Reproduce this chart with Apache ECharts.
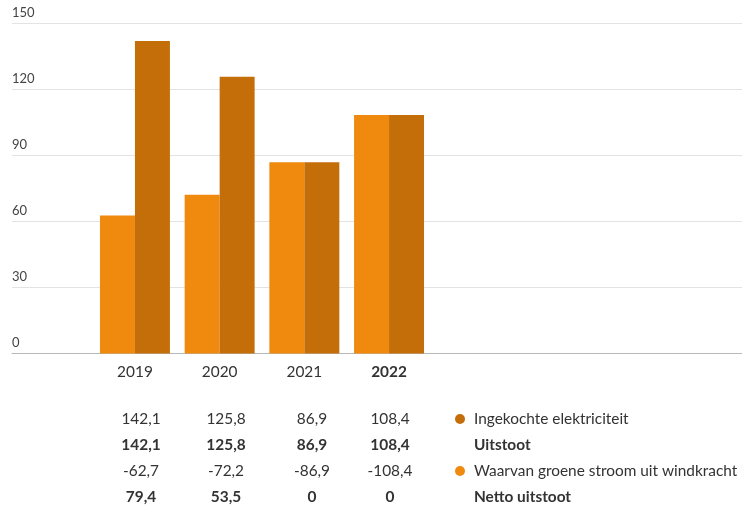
<!DOCTYPE html>
<html><head><meta charset="utf-8">
<script src="https://cdn.jsdelivr.net/npm/echarts@6/dist/echarts.min.js"></script>
<style>html,body{margin:0;padding:0;background:#fff}#c{width:742px;height:508px}</style>
</head><body><div id="c"></div>
<script>
const years = ['2019', '2020', '2021', '2022'];
const ingekocht = [142.1, 125.8, 86.9, 108.4];
const groene = [62.7, 72.2, 86.9, 108.4];
const netto = [79.4, 53.5, 0, 0];
const yTicks = [0, 30, 60, 90, 120, 150];
const rowLabels = ['Ingekochte elektriciteit', 'Uitstoot', 'Waarvan groene stroom uit windkracht', 'Netto uitstoot'];

const cLight = '#ef8a0f', cDark = '#c46e0a';
const FONT = 'Lato';
const FS = 15.4;
const fmt = v => String(v).replace('.', ',');

const chart = echarts.init(document.getElementById('c'), null, {renderer: 'canvas'});

const rows = [
  {vals: ingekocht.map(v => fmt(v)), bold: false, dot: cDark},
  {vals: ingekocht.map(v => fmt(v)), bold: true, dot: null},
  {vals: groene.map(v => fmt(-v)), bold: false, dot: cLight},
  {vals: netto.map(v => fmt(v)), bold: true, dot: null}
];
const colX = [141, 226, 312, 390];
const rowY = [419, 445, 471, 497];
const graphics = [];
rows.forEach((r, i) => {
  r.vals.forEach((t, j) => {
    graphics.push({type: 'text', x: colX[j], y: rowY[i], style: {text: t, align: 'center', verticalAlign: 'middle', fill: '#333', font: (r.bold ? 'bold ' : '') + FS + 'px ' + FONT}});
  });
  if (r.dot) graphics.push({type: 'circle', shape: {cx: 460, cy: rowY[i], r: 5}, style: {fill: r.dot}});
  graphics.push({type: 'text', x: 474, y: rowY[i], style: {text: rowLabels[i], align: 'left', verticalAlign: 'middle', fill: '#333', font: (r.bold ? 'bold ' : '') + FS + 'px ' + FONT}});
});

chart.setOption({
  animation: false,
  grid: [
    {left: 12, right: 0, top: 23.5, height: 330},
    {left: 92.6, width: 338.8, top: 23.5, height: 330}
  ],
  xAxis: [
    {gridIndex: 0, type: 'category', data: [''], axisLine: {lineStyle: {color: '#b8b8b8', width: 1}}, axisTick: {show: false}, axisLabel: {show: false}},
    {gridIndex: 1, type: 'category', data: years, axisLine: {show: false}, axisTick: {show: false},
     axisLabel: {margin: 11, color: '#333', fontFamily: FONT, fontSize: FS,
       formatter: (v, i) => i === years.length - 1 ? '{b|' + v + '}' : v,
       rich: {b: {fontWeight: 'bold', color: '#333', fontFamily: FONT, fontSize: FS}}}}
  ],
  yAxis: [
    {gridIndex: 0, type: 'value', min: yTicks[0], max: yTicks[yTicks.length - 1], interval: 30,
     axisLine: {show: false}, axisTick: {show: false},
     splitLine: {lineStyle: {color: '#e3e3e3', width: 1}},
     axisLabel: {inside: true, margin: 0, align: 'left', verticalAlign: 'bottom', padding: [0, 0, 4, 0], color: '#444', fontFamily: FONT, fontSize: 13}},
    {gridIndex: 1, type: 'value', min: yTicks[0], max: yTicks[yTicks.length - 1], interval: 30, show: false}
  ],
  series: [
    {type: 'bar', name: rowLabels[2], xAxisIndex: 1, yAxisIndex: 1, data: groene, itemStyle: {color: cLight}, barGap: '0%', barCategoryGap: '17.4%'},
    {type: 'bar', name: rowLabels[0], xAxisIndex: 1, yAxisIndex: 1, data: ingekocht, itemStyle: {color: cDark}, barGap: '0%', barCategoryGap: '17.4%'}
  ],
  graphic: graphics
});
</script></body></html>
